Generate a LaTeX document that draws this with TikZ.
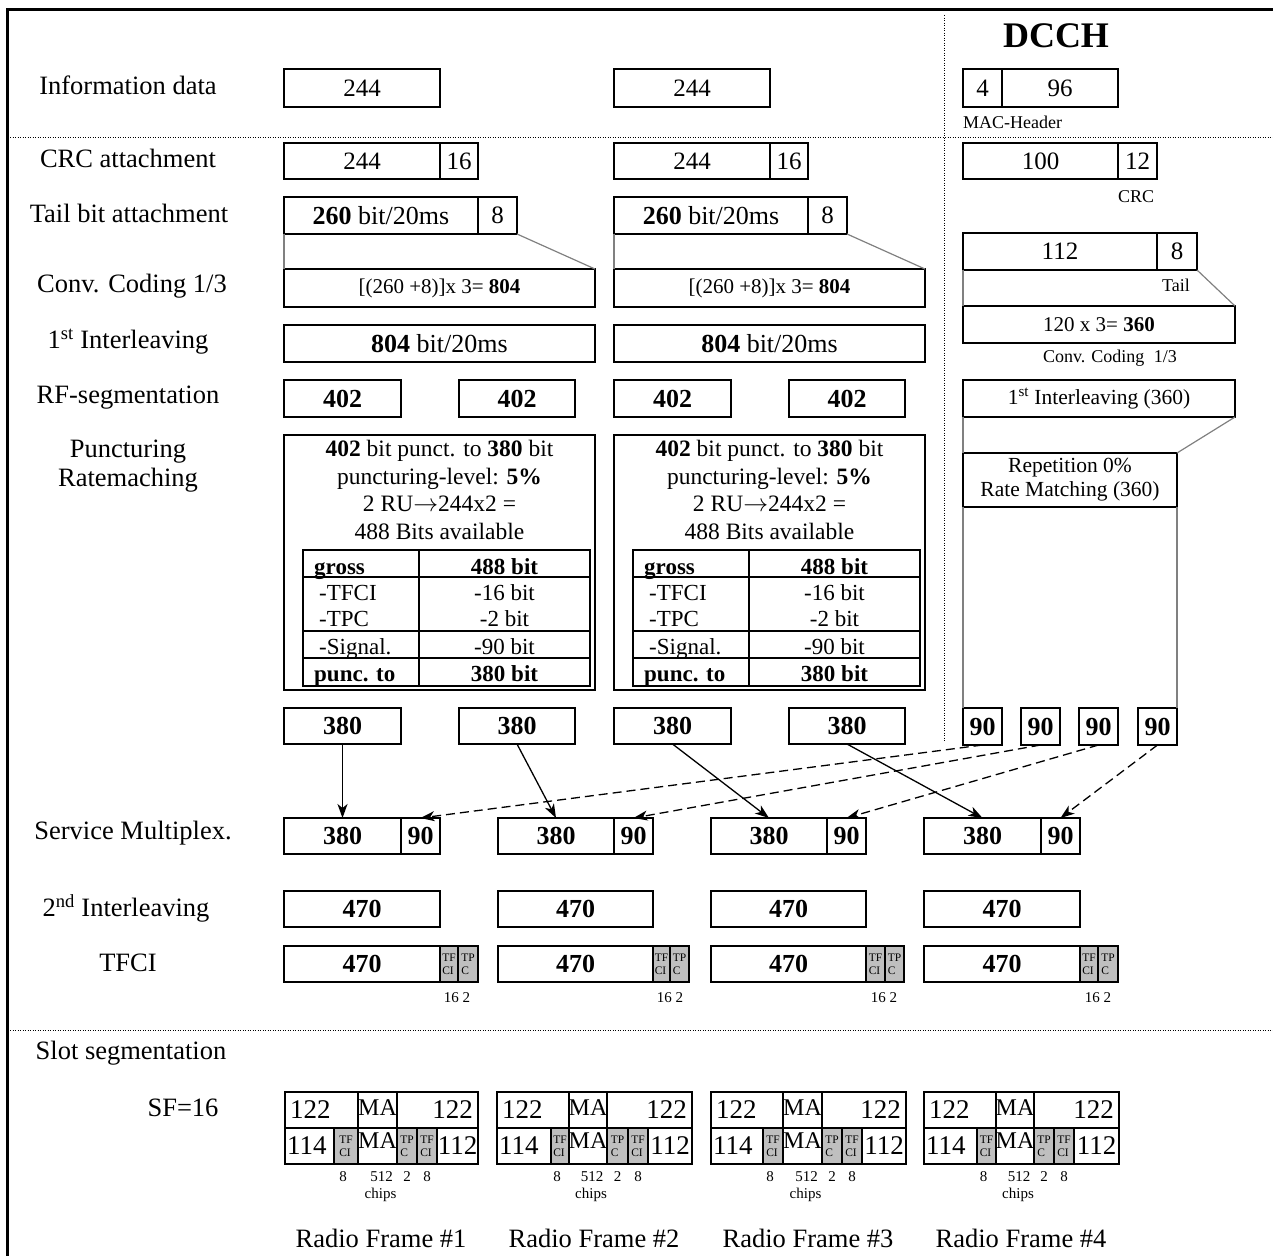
\documentclass[tikz,border=0pt]{standalone}
\usepackage{fontspec}
\setmainfont{Liberation Serif}
\usetikzlibrary{arrows.meta}
\newcommand\fsz[2]{\fontsize{#1}{#2}\selectfont}
% \bx[options]{name}{x1}{y1}{x2}{y2}{text}
\newcommand\bx[7][]{\node[cbox,minimum width={#5-#3},minimum height={#6-#4},#1] (#2) at (#3,#4) {#7};}
\tikzset{
  cbox/.style={draw, line width=1.5pt, inner sep=0pt, outer sep=0pt, anchor=north west, font={\fsz{25}{30}}},
  cboxb/.style={font={\fsz{26}{30}\bfseries}},
  gcell/.style={fill=black!25, font={\fsz{11.5}{13}}, align=left},
  lbl/.style={font={\fsz{26.5}{29}}, align=center, inner sep=0pt},
  smalltxt/.style={font={\fsz{18}{20}}, inner sep=0pt},
  tinytxt/.style={font={\fsz{15}{17}}, inner sep=0pt},
  tabtxt/.style={font={\fsz{23}{26}}, inner sep=0pt},
  slotnum/.style={font={\fsz{27}{30}}, inner sep=0pt},
  matxt/.style={font={\fsz{24}{26}}, inner sep=0pt},
  gline/.style={draw=black!50, line width=1.2pt},
  dotline/.style={line width=1pt, dash pattern=on 1pt off 1.5pt},
  arr/.style={line width=1.3pt, -{Stealth[length=14pt,width=10pt,inset=4pt]}},
  darr/.style={arr, dash pattern=on 9pt off 5pt},
}
% one transport channel column
\newcommand\tchcol[2]{%
\begin{scope}[xshift=#2]
\bx{#1info}{284}{69}{440}{107}{244}
\bx{#1crca}{284}{143}{440}{179}{244}
\bx{#1crcb}{440}{143}{478}{179}{16}
\bx[font={\fsz{26}{30}}]{#1taila}{284}{197}{478}{234}{\textbf{260} bit/20ms}
\bx{#1tailb}{478}{197}{517}{234}{8}
\bx[font={\fsz{21}{25}}]{#1conv}{284}{269}{595}{307}{[(260 +8)]x 3= \textbf{804}}
\draw[gline] (#1taila.south west) -- (#1conv.north west);
\draw[gline] (#1tailb.south east) -- (#1conv.north east);
\bx[font={\fsz{26}{30}}]{#1int}{284}{325}{595}{362}{\textbf{804} bit/20ms}
\bx[cboxb]{#1rfa}{284}{380}{401}{417}{402}
\bx[cboxb]{#1rfb}{459}{380}{575}{417}{402}
\bx{#1pun}{284}{435}{595}{690}{}
\node[font={\fsz{23.5}{27.5}}, align=center, inner sep=0pt] (#1puntxt) at (439.5,490)
  {\textbf{402} bit punct. to \textbf{380} bit\\puncturing-level: \textbf{5\%}\\2 RU\(\rightarrow\)244x2 =\\488 Bits available};
\draw[line width=2.2pt] (303,550) rectangle (590,686);
\draw[line width=2.2pt] (419,550) -- (419,686) (303,577) -- (590,577) (303,631) -- (590,631) (303,658) -- (590,658);
\node[tabtxt, anchor=base west] (#1g1) at (314,574) {\textbf{gross}};
\node[tabtxt, anchor=base west] (#1g2) at (319,600) {-TFCI};
\node[tabtxt, anchor=base west] (#1g3) at (319,626) {-TPC};
\node[tabtxt, anchor=base west] (#1g4) at (319,654) {-Signal.};
\node[tabtxt, anchor=base west] (#1g5) at (314,681) {\textbf{punc. to}};
\node[tabtxt, anchor=base] (#1v1) at (504.5,574) {\textbf{488 bit}};
\node[tabtxt, anchor=base] (#1v2) at (504.5,600) {-16 bit};
\node[tabtxt, anchor=base] (#1v3) at (504.5,626) {-2 bit};
\node[tabtxt, anchor=base] (#1v4) at (504.5,654) {-90 bit};
\node[tabtxt, anchor=base] (#1v5) at (504.5,681) {\textbf{380 bit}};
\bx[cboxb]{#1oa}{284}{708}{401}{744}{380}
\bx[cboxb]{#1ob}{459}{708}{575}{744}{380}
\end{scope}}
% slot frame: name L a b c d e R
\newcommand\slotframe[8]{%
\bx{#1t1}{#2}{1092}{#4}{1128}{}
\bx{#1t2}{#4}{1092}{#5}{1128}{}
\bx{#1t3}{#5}{1092}{#8}{1128}{}
\bx{#1b1}{#2}{1128}{#3}{1164}{}
\bx[gcell]{#1b2}{#3}{1128}{#4}{1164}{TF\\CI}
\bx{#1b3}{#4}{1128}{#5}{1164}{}
\bx[gcell]{#1b4}{#5}{1128}{#6}{1164}{TP\\C}
\bx[gcell]{#1b5}{#6}{1128}{#7}{1164}{TF\\CI}
\bx{#1b6}{#7}{1128}{#8}{1164}{}
\node[slotnum, anchor=west] (#1x1) at ({#2+5},1110) {122};
\node[slotnum, anchor=east] (#1x2) at ({#8-5},1110) {122};
\node[matxt] (#1x3) at ({(#4+#5)/2},1108) {MA};
\node[slotnum, anchor=west] (#1x4) at ({#2+2},1146) {114};
\node[matxt] (#1x5) at ({(#4+#5)/2},1141) {MA};
\node[slotnum] (#1x6) at ({(#7+#8)/2},1146) {112};
\node[tinytxt] (#1y1) at ({(#3+#4)/2-3},1177) {8};
\node[tinytxt] (#1y2) at ({(#4+#5)/2+4},1177) {512};
\node[tinytxt] (#1y3) at ({(#5+#6)/2},1177) {2};
\node[tinytxt] (#1y4) at ({(#6+#7)/2},1177) {8};
\node[tinytxt] (#1y5) at ({(#4+#5)/2+3},1195) {chips};
}
\begin{document}
\begin{tikzpicture}[x=1pt,y=-1pt]
\useasboundingbox (0,0) rectangle (1273,1256);
\draw[line width=3pt] (1273,9) -- (7,9) -- (7,1256);
\draw[dotline] (10,137) -- (1273,137);
\draw[dotline] (944,15) -- (944,741);
\draw[dotline] (10,1030) -- (1273,1030);
% row labels
\node[lbl] (l1) at (128,85) {Information data};
\node[lbl] (l2) at (128,158) {CRC attachment};
\node[lbl] (l3) at (129,213) {Tail bit attachment};
\node[lbl] (l4) at (132,286) {Conv. Coding 1/3};
\node[lbl] (l5) at (128,342) {1\textsuperscript{st} Interleaving};
\node[lbl] (l6) at (128,398) {RF-segmentation};
\node[lbl] (l7) at (128,466) {Puncturing\\Ratemaching};
\node[lbl] (l8) at (133,833) {Service Multiplex.};
\node[lbl] (l9) at (126,908) {2\textsuperscript{nd} Interleaving};
\node[lbl] (l10) at (128,963) {TFCI};
\node[lbl] (l11) at (131,1053) {Slot segmentation};
\node[lbl] (l12) at (183,1108) {SF=16};
% two transport channels
\tchcol{c1}{0}
\tchcol{c2}{330}
% DCCH
\node[font={\fsz{36}{40}\bfseries}, inner sep=0pt] (dcch) at (1056,36) {DCCH};
\bx{d1a}{963}{69}{1002}{107}{4}
\bx{d1b}{1002}{69}{1118}{107}{96}
\node[smalltxt, anchor=west] (mach) at (963,122) {MAC-Header};
\bx{d2a}{963}{143}{1118}{179}{100}
\bx{d2b}{1118}{143}{1157}{179}{12}
\node[smalltxt] (crcl) at (1136,197) {CRC};
\bx{d3a}{963}{233}{1157}{270}{112}
\bx{d3b}{1157}{233}{1197}{270}{8}
\node[smalltxt] (taill) at (1176,285) {Tail};
\bx[font={\fsz{21}{25}}]{d4}{963}{306}{1235}{343}{120 x 3= \textbf{360}}
\draw[gline] (d3a.south west) -- (d4.north west);
\draw[gline] (d3b.south east) -- (d4.north east);
\node[smalltxt] (convl) at (1110,358) {Conv. Coding\hspace{5pt} 1/3};
\bx[font={\fsz{21.5}{24}}]{d5}{963}{380}{1235}{417}{1\textsuperscript{st} Interleaving (360)}
\bx[font={\fsz{21.5}{24}}, align=center]{d6}{963}{453}{1177}{507}{Repetition 0\%\\Rate Matching (360)}
\draw[gline] (d5.south west) -- (d6.north west);
\draw[gline] (d5.south east) -- (d6.north east);
\bx[cboxb]{n1}{963}{708}{1002}{745}{90}
\bx[cboxb]{n2}{1021}{708}{1060}{745}{90}
\bx[cboxb]{n3}{1079}{708}{1118}{745}{90}
\bx[cboxb]{n4}{1138}{708}{1177}{745}{90}
\draw[gline] (d6.south west) -- (n1.north west);
\draw[gline] (d6.south east) -- (n4.north east);
% service multiplex
\bx[cboxb]{m1a}{284}{818}{401}{854}{380}
\bx[cboxb]{m1b}{401}{818}{440}{854}{90}
\bx[cboxb]{m2a}{498}{818}{614}{854}{380}
\bx[cboxb]{m2b}{614}{818}{653}{854}{90}
\bx[cboxb]{m3a}{711}{818}{827}{854}{380}
\bx[cboxb]{m3b}{827}{818}{866}{854}{90}
\bx[cboxb]{m4a}{924}{818}{1041}{854}{380}
\bx[cboxb]{m4b}{1041}{818}{1080}{854}{90}
\draw[arr] (c1oa.south) -- (m1a.north);
\draw[arr] (c1ob.south) -- (m2a.north);
\draw[arr] (c2oa.south) -- (m3a.north);
\draw[arr] (c2ob.south) -- (m4a.north);
\draw[darr] (n1.south) -- (m1b.north);
\draw[darr] (n2.south) -- (m2b.north);
\draw[darr] (n3.south) -- (m3b.north);
\draw[darr] (n4.south) -- (m4b.north);
% 2nd interleaving
\bx[cboxb]{i1}{284}{891}{440}{927}{470}
\bx[cboxb]{i2}{498}{891}{653}{927}{470}
\bx[cboxb]{i3}{711}{891}{866}{927}{470}
\bx[cboxb]{i4}{924}{891}{1080}{927}{470}
% TFCI
\bx[cboxb]{t1}{284}{946}{440}{982}{470}
\bx[gcell]{t1f}{440}{946}{458}{982}{TF\\CI}
\bx[gcell]{t1p}{458}{946}{478}{982}{TP\\C}
\bx[cboxb]{t2}{498}{946}{653}{982}{470}
\bx[gcell]{t2f}{653}{946}{670}{982}{TF\\CI}
\bx[gcell]{t2p}{670}{946}{689}{982}{TP\\C}
\bx[cboxb]{t3}{711}{946}{866}{982}{470}
\bx[gcell]{t3f}{866}{946}{885}{982}{TF\\CI}
\bx[gcell]{t3p}{885}{946}{904}{982}{TP\\C}
\bx[cboxb]{t4}{924}{946}{1080}{982}{470}
\bx[gcell]{t4f}{1080}{946}{1098}{982}{TF\\CI}
\bx[gcell]{t4p}{1098}{946}{1118}{982}{TP\\C}
\node[tinytxt] (s1) at (457,998) {16 2};
\node[tinytxt] (s2) at (670,998) {16 2};
\node[tinytxt] (s3) at (884,998) {16 2};
\node[tinytxt] (s4) at (1098,998) {16 2};
% slot segmentation
\slotframe{f1}{285}{334}{358}{397}{417}{437}{478}
\slotframe{f2}{497}{551}{569}{607}{628}{648}{692}
\slotframe{f3}{711}{763}{783}{822}{842}{862}{906}
\slotframe{f4}{924}{977}{996}{1034}{1054}{1074}{1119}
\node[lbl] (rf1) at (381,1238) {Radio Frame \#1};
\node[lbl] (rf2) at (594,1238) {Radio Frame \#2};
\node[lbl] (rf3) at (808,1238) {Radio Frame \#3};
\node[lbl] (rf4) at (1021,1238) {Radio Frame \#4};
\end{tikzpicture}
\end{document}
